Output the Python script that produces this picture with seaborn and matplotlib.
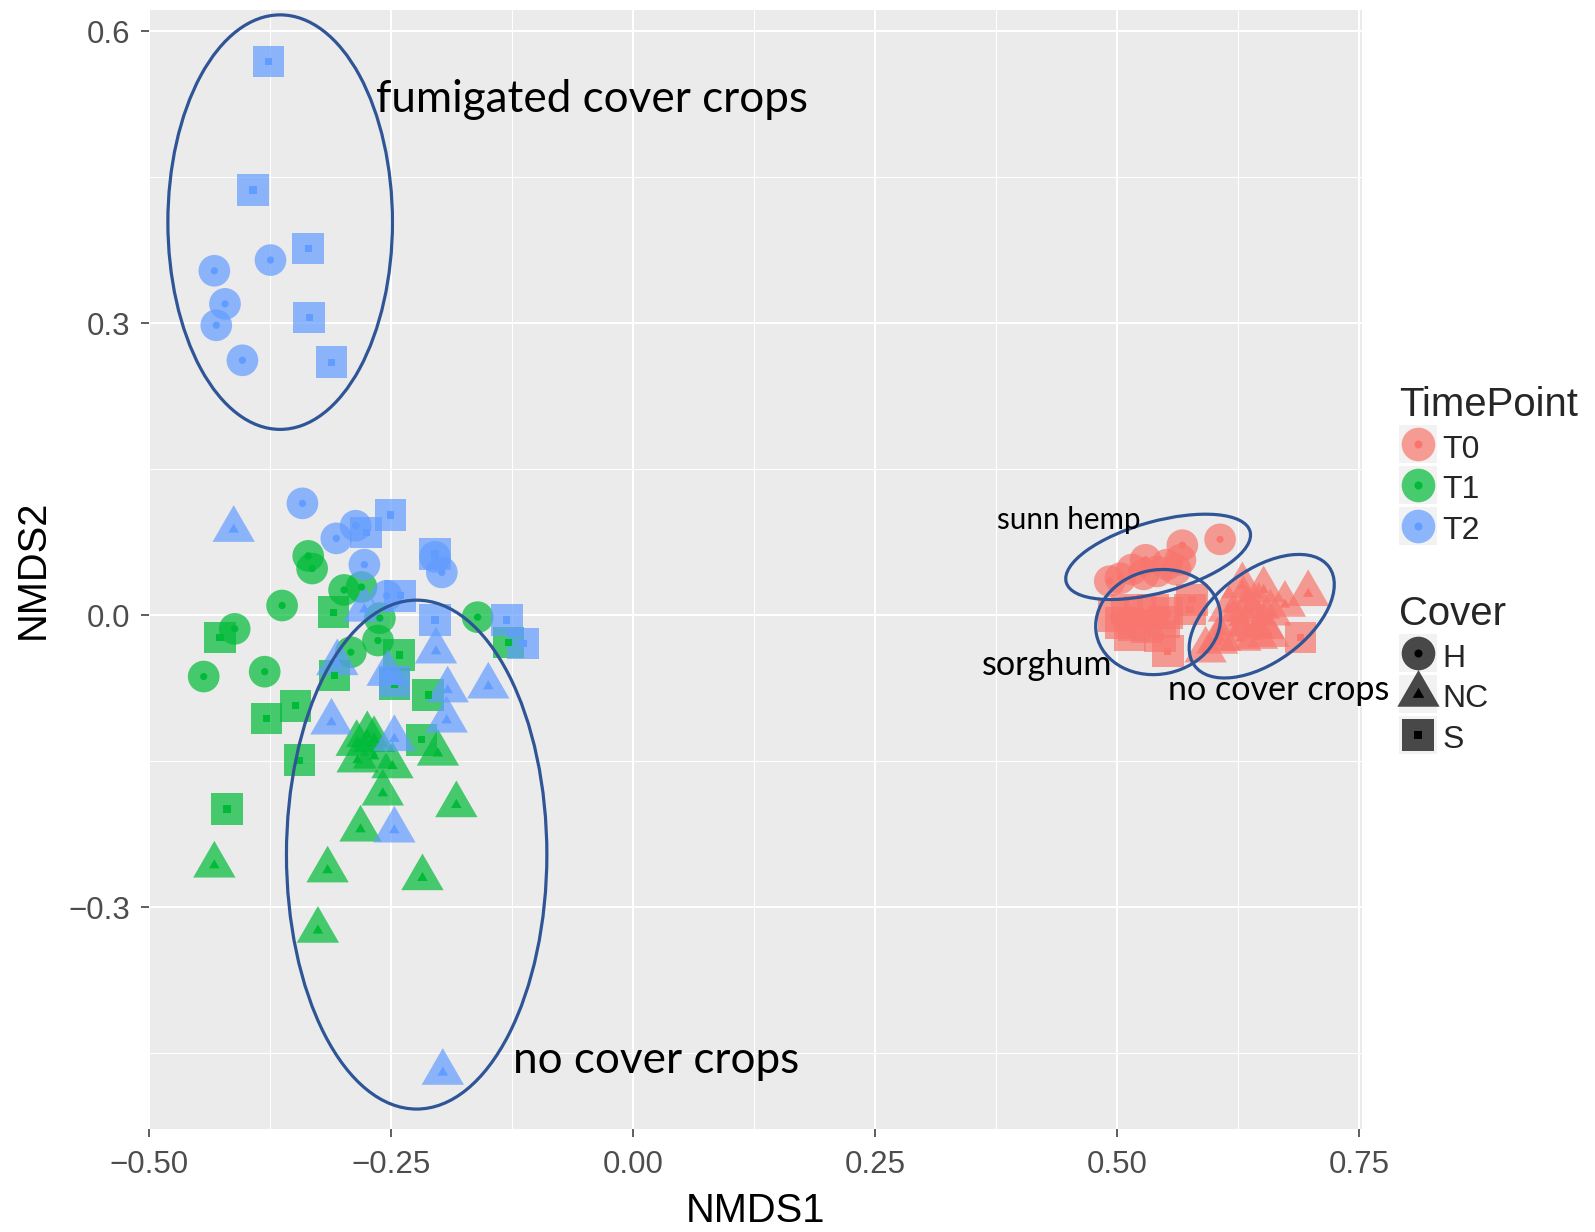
import matplotlib
matplotlib.use("Agg")
import matplotlib.pyplot as plt
import pandas as pd
import seaborn as sns
from matplotlib.path import Path
from matplotlib.lines import Line2D
from matplotlib.patches import Ellipse

# ---- NMDS scores, by time point (T0/T1/T2) and cover (H/NC/S) ----
t0_h_x = [0.606, 0.567, 0.565, 0.492, 0.503, 0.515, 0.529, 0.541, 0.551, 0.560, 0.527]
t0_h_y = [0.078, 0.072, 0.057, 0.035, 0.038, 0.047, 0.057, 0.045, 0.052, 0.047, 0.042]
t0_s_x = [0.577, 0.575, 0.496, 0.510, 0.523, 0.537, 0.551, 0.503, 0.517, 0.530, 0.548,
          0.513, 0.544, 0.552, 0.689]
t0_s_y = [0.016, 0.006, -0.001, 0.006, 0.004, 0.006, 0.002, -0.008, -0.010, -0.012, -0.007,
          -0.020, -0.022, -0.037, -0.023]
t0_nc_x = [0.630, 0.651, 0.673, 0.697, 0.615, 0.634, 0.646, 0.658, 0.620, 0.634, 0.651,
           0.606, 0.627, 0.644, 0.656, 0.591, 0.603, 0.629]
t0_nc_y = [0.016, 0.026, 0.011, 0.022, 0.006, 0.006, 0.009, 0.002, -0.008, -0.010, -0.012,
           -0.024, -0.024, -0.022, -0.020, -0.036, -0.027, 0.030]

t1_h_x = [-0.336, -0.332, -0.299, -0.281, -0.363, -0.262, -0.161, -0.412, -0.264, -0.292,
          -0.444, -0.381]
t1_h_y = [0.061, 0.048, 0.026, 0.029, 0.010, -0.003, -0.002, -0.014, -0.026, -0.038,
          -0.063, -0.058]
t1_s_x = [-0.310, -0.427, -0.129, -0.242, -0.309, -0.247, -0.212, -0.349, -0.379, -0.219,
          -0.345, -0.420]
t1_s_y = [0.003, -0.023, -0.028, -0.041, -0.062, -0.071, -0.082, -0.093, -0.106, -0.128,
          -0.149, -0.199]
t1_nc_x = [-0.275, -0.286, -0.268, -0.285, -0.268, -0.249, -0.202, -0.259, -0.183, -0.282,
           -0.433, -0.316, -0.218, -0.326]
t1_nc_y = [-0.123, -0.132, -0.128, -0.149, -0.145, -0.155, -0.142, -0.183, -0.195, -0.220,
           -0.257, -0.262, -0.270, -0.324]

t2_h_x = [-0.375, -0.433, -0.422, -0.431, -0.404, -0.342, -0.307, -0.287, -0.278, -0.205,
          -0.198, -0.255]
t2_h_y = [0.365, 0.354, 0.320, 0.298, 0.262, 0.115, 0.079, 0.092, 0.052, 0.060, 0.044, 0.020]
t2_s_x = [-0.377, -0.393, -0.336, -0.335, -0.312, -0.276, -0.251, -0.205, -0.241, -0.205,
          -0.131, -0.114, -0.247]
t2_s_y = [0.569, 0.437, 0.377, 0.306, 0.260, 0.085, 0.103, 0.063, 0.020, -0.005, -0.005,
          -0.029, -0.068]
t2_nc_x = [-0.413, -0.278, -0.204, -0.306, -0.254, -0.192, -0.150, -0.193, -0.312, -0.247,
           -0.247, -0.197]
t2_nc_y = [0.088, 0.006, -0.037, -0.049, -0.060, -0.077, -0.073, -0.108, -0.110, -0.127,
           -0.221, -0.470]

timepoints = ["T0", "T1", "T2"]
covers = ["H", "NC", "S"]
tp_colors = ["#F8766D", "#00BA38", "#619CFF"]

x_ticks = [-0.50, -0.25, 0.00, 0.25, 0.50, 0.75]
x_tick_labels = ["\u22120.50", "\u22120.25", "0.00", "0.25", "0.50", "0.75"]
y_ticks = [-0.3, 0.0, 0.3, 0.6]
y_tick_labels = ["\u22120.3", "0.0", "0.3", "0.6"]

# hand-drawn group outlines: centre x, centre y, width, height, angle
ell_cx = [-0.365, -0.224, 0.542, 0.542, 0.649]
ell_cy = [0.404, -0.246, 0.060, -0.007, -0.001]
ell_w = [0.232, 0.269, 0.197, 0.130, 0.172]
ell_h = [0.426, 0.523, 0.073, 0.107, 0.095]
ell_ang = [0, 0, 15.4, 12, 36]

# group labels: text, x, y (baseline, left), size
note_text = ["fumigated cover crops", "no cover crops", "sunn hemp", "sorghum", "no cover crops"]
note_x = [-0.2660, -0.1240, 0.3758, 0.3597, 0.5525]
note_y = [0.5170, -0.4700, 0.0883, -0.0615, -0.0871]
note_size = [31.7, 31.7, 21.3, 24.6, 24.6]

groups = [
    ("T0", "H", t0_h_x, t0_h_y), ("T0", "S", t0_s_x, t0_s_y), ("T0", "NC", t0_nc_x, t0_nc_y),
    ("T1", "H", t1_h_x, t1_h_y), ("T1", "S", t1_s_x, t1_s_y), ("T1", "NC", t1_nc_x, t1_nc_y),
    ("T2", "H", t2_h_x, t2_h_y), ("T2", "S", t2_s_x, t2_s_y), ("T2", "NC", t2_nc_x, t2_nc_y),
]
rows = []
for tp, cov, xs, ys in groups:
    for xv, yv in zip(xs, ys):
        rows.append({"NMDS1": xv, "NMDS2": yv, "TimePoint": tp, "Cover": cov})
df = pd.DataFrame(rows)

sns.set_theme(style="darkgrid")
plt.rcParams["font.family"] = ["Liberation Sans", "DejaVu Sans"]
plt.rcParams["axes.unicode_minus"] = True

# equilateral triangle with its centroid at the origin (ggplot shape 17)
tri = Path([(0.0, 1.0), (-0.8660254, -0.5), (0.8660254, -0.5), (0.0, 1.0)], closed=True)
marker_map = {"H": "o", "NC": tri, "S": "s"}
palette = dict(zip(timepoints, tp_colors))

fig = plt.figure(figsize=(15.95, 12.32), dpi=100)
fig.patch.set_facecolor("white")
ax = fig.add_axes([0.09342, 0.08360, 0.76050, 0.90828])
ax.set_facecolor("#EBEBEB")

# large translucent symbols
sns.scatterplot(data=df, x="NMDS1", y="NMDS2", hue="TimePoint", hue_order=timepoints,
                style="Cover", style_order=covers, markers=marker_map,
                size="Cover", size_order=covers, sizes={"H": 520, "NC": 1240, "S": 520},
                palette=palette, alpha=0.7, linewidth=0, edgecolor="none",
                legend=False, ax=ax, zorder=3)
# small solid centre symbols
sns.scatterplot(data=df, x="NMDS1", y="NMDS2", hue="TimePoint", hue_order=timepoints,
                style="Cover", style_order=covers, markers=marker_map,
                size="Cover", size_order=covers, sizes={"H": 27, "NC": 76, "S": 28},
                palette=palette, alpha=1.0, linewidth=0, edgecolor="none",
                legend=False, ax=ax, zorder=4)

ax.set_xlim(-0.5005, 0.7526)
ax.set_ylim(-0.528, 0.622)
ax.set_xticks(x_ticks)
ax.set_xticklabels(x_tick_labels)
ax.set_yticks(y_ticks)
ax.set_yticklabels(y_tick_labels)
ax.set_xticks([-0.375, -0.125, 0.125, 0.375, 0.625], minor=True)
ax.set_yticks([-0.45, -0.15, 0.15, 0.45], minor=True)
ax.grid(which="major", color="white", linewidth=1.5)
ax.grid(which="minor", color="white", linewidth=0.75)
ax.set_axisbelow(True)
for sp in ax.spines.values():
    sp.set_visible(False)
ax.tick_params(which="major", direction="out", length=5.8, width=1.1, color="#333333",
               labelsize=22.5, labelcolor="#4D4D4D", bottom=True, left=True)
ax.tick_params(axis="x", which="major", pad=9.5)
ax.tick_params(axis="y", which="major", pad=8)
ax.tick_params(which="minor", length=0)

ax.set_xlabel("NMDS1", fontsize=28.7, color="black")
ax.set_ylabel("NMDS2", fontsize=28.7, color="black")
ax.xaxis.set_label_coords(0.5, -0.056)
ax.yaxis.set_label_coords(-0.0800, 0.5)

for cx, cy, w, h, a in zip(ell_cx, ell_cy, ell_w, ell_h, ell_ang):
    ax.add_patch(Ellipse((cx, cy), w, h, angle=a, fill=False, edgecolor="#2F5597",
                         linewidth=2.3, zorder=5))

for t, xv, yv, fs in zip(note_text, note_x, note_y, note_size):
    ax.text(xv, yv, t, fontsize=fs, family=["Lato", "DejaVu Sans"], color="black",
            ha="left", va="baseline", clip_on=False, zorder=6)

# legends
key_bg = dict(ls="none", marker="s", ms=27.5, color="#F2F2F2", mew=0)
tp_handles = []
for c in tp_colors:
    tp_handles.append((Line2D([], [], **key_bg),
                       Line2D([], [], ls="none", marker="o", ms=24.2, color=c, alpha=0.7, mew=0),
                       Line2D([], [], ls="none", marker="o", ms=5.8, color=c, mew=0)))
cov_big = {"H": ("o", 24.2), "NC": (tri, 35.2), "S": ("s", 23.3)}
cov_small = {"H": ("o", 5.8), "NC": (tri, 9.7), "S": ("s", 5.6)}
cov_handles = []
for cv in covers:
    cov_handles.append((Line2D([], [], **key_bg),
                        Line2D([], [], ls="none", marker=cov_big[cv][0], ms=cov_big[cv][1],
                               color="black", alpha=0.7, mew=0),
                        Line2D([], [], ls="none", marker=cov_small[cv][0], ms=cov_small[cv][1],
                               color="black", mew=0)))

leg_kw = dict(frameon=False, loc="upper left", borderpad=0, borderaxespad=0,
              prop={"size": 23}, title_fontsize=28.9, handlelength=1.18,
              handleheight=1.22, labelspacing=0.20, handletextpad=0.18,
              alignment="left", bbox_transform=fig.transFigure)
leg1 = ax.legend(tp_handles, timepoints, title="TimePoint",
                 bbox_to_anchor=(1399 / 1595, 1 - 386 / 1232), **leg_kw)
ax.add_artist(leg1)
leg2 = ax.legend(cov_handles, covers, title="Cover",
                 bbox_to_anchor=(1399 / 1595, 1 - 595 / 1232), **leg_kw)

fig.savefig("out.png", dpi=100, facecolor="white")
